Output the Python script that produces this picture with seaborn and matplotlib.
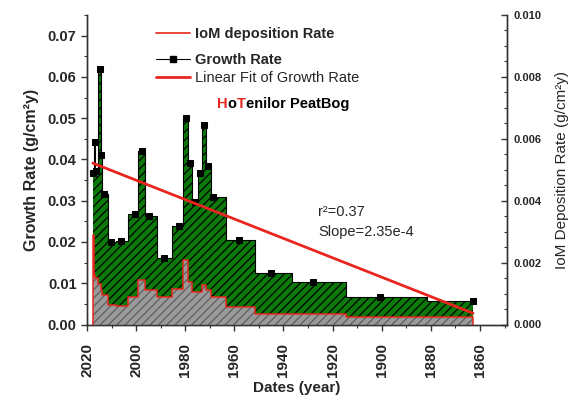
import numpy as np
import pandas as pd
import matplotlib
matplotlib.use("Agg")
import matplotlib.pyplot as plt
from matplotlib.lines import Line2D
from matplotlib.ticker import MultipleLocator, FormatStrFormatter
import seaborn as sns

# dated peat layers
years = [2017.6, 2016.8, 2016.3, 2014.7, 2014.3, 2013.1, 2010.2, 2006.2, 2000.5, 1997.6,
         1994.8, 1988.6, 1982.5, 1979.7, 1978.1, 1976.0, 1974.0, 1972.4, 1970.7, 1968.7,
         1958.1, 1945.1, 1928.0, 1900.7, 1862.8]
growth_rate = [0.0366, 0.0443, 0.0372, 0.0618, 0.0410, 0.0316, 0.0199, 0.0202, 0.0268, 0.0420,
               0.0263, 0.0161, 0.0238, 0.0500, 0.0392, 0.0298, 0.0366, 0.0483, 0.0385, 0.0308,
               0.0205, 0.0125, 0.0104, 0.0067, 0.0058]
iom_rate = [0.0029, 0.0016, 0.0015, 0.0013, 0.0011, 0.00094, 0.00062, 0.0006, 0.0009, 0.00143,
            0.0011, 0.00088, 0.00114, 0.0021, 0.00137, 0.00104, 0.00104, 0.00127, 0.0011, 0.00088,
            0.00057, 0.00033, 0.00033, 0.00023, 0.00023]

# linear fit of growth rate
fit_r2 = 0.37
fit_slope = 2.35e-4
fit_start = 0.0391

sns.set_style("ticks")
plt.rcParams['font.family'] = ['Liberation Sans', 'DejaVu Sans']
plt.rcParams['font.weight'] = 'bold'
plt.rcParams['hatch.linewidth'] = 0.9

df = pd.DataFrame({'year': years, 'growth': growth_rate, 'iom': iom_rate})

green = '#0b7a0b'
red = '#e8261f'

fig = plt.figure(figsize=(5.7, 4.05), dpi=100)
ax = fig.add_axes([87/570, 1 - 324.5/405, 420/570, 309.5/405])
ax2 = ax.twinx()

# growth rate (left axis)
ax.fill_between(df['year'], df['growth'], step='mid', facecolor=green,
                edgecolor='black', hatch='////', linewidth=0)
sns.lineplot(data=df, x='year', y='growth', ax=ax, drawstyle='steps-mid', color='black',
             lw=0.8, marker='s', markersize=5, markeredgecolor='black',
             estimator=None, sort=False)
fx = np.array([years[0], years[-1]])
ax.plot(fx, fit_start - fit_slope * (years[0] - fx), color=red, lw=2)

# IoM deposition rate (right axis)
ax2.fill_between(df['year'], df['iom'], step='mid', facecolor='#9a9a9a',
                 edgecolor='#5e5e5e', hatch='////', linewidth=0)
ax2.plot([years[0]] + years + [years[-1]], [0] + iom_rate + [0],
         drawstyle='steps-mid', color=red, lw=1.1)

ax.set_xlim(2020, 1849)
ax.set_ylim(0, 0.075)
ax2.set_ylim(0, 0.010)

ax.xaxis.set_major_locator(MultipleLocator(20))
ax.xaxis.set_minor_locator(MultipleLocator(10))
ax.yaxis.set_major_locator(MultipleLocator(0.01))
ax.yaxis.set_minor_locator(MultipleLocator(0.005))
ax.yaxis.set_major_formatter(FormatStrFormatter('%.2f'))
ax2.yaxis.set_major_locator(MultipleLocator(0.002))
ax2.yaxis.set_minor_locator(MultipleLocator(0.0005))
ax2.yaxis.set_major_formatter(FormatStrFormatter('%.3f'))

ax.tick_params(axis='both', which='major', direction='out', length=4.5, width=1, pad=3, color='#333333')
ax.tick_params(axis='both', which='minor', direction='out', length=2.5, width=0.8, color='#333333')
ax.tick_params(axis='x', which='major', labelrotation=90, labelsize=11, pad=9)
ax.tick_params(axis='y', labelsize=10.5)
ax2.tick_params(axis='y', which='major', direction='in', length=4.5, width=1, pad=5, labelsize=8, color='#333333')
ax2.tick_params(axis='y', which='minor', direction='in', length=2.5, width=0.8, color='#333333')

for a in (ax, ax2):
    a.spines['top'].set_visible(False)
    for s in a.spines.values():
        s.set_linewidth(1)
        s.set_color('#333333')

ax.set_xlabel('Dates (year)', fontsize=11, fontweight='bold', labelpad=3)
ax.set_ylabel('Growth Rate (g/cm²y)', fontsize=11.5, fontweight='bold', labelpad=6)
ax2.set_ylabel('IoM Deposition Rate (g/cm²y)', fontsize=11, fontweight='normal', labelpad=9)

# legends
leg1 = fig.legend([Line2D([], [], color=red, lw=1.2)], ['IoM deposition Rate'],
                  loc='center left', bbox_to_anchor=(156/570, 1 - 34/405), frameon=False,
                  fontsize=10.5, handlelength=2.3, handletextpad=0.35, borderpad=0, borderaxespad=0)
leg2 = fig.legend([Line2D([], [], color='black', lw=0.8, marker='s', markersize=5),
                   Line2D([], [], color=red, lw=2)],
                  ['Growth Rate', 'Linear Fit of Growth Rate'],
                  loc='center left', bbox_to_anchor=(156/570, 1 - 69/405), frameon=False,
                  fontsize=10.5, handlelength=2.3, handletextpad=0.35, labelspacing=0.3,
                  borderpad=0, borderaxespad=0)
leg2.get_texts()[1].set_fontweight('normal')

# site name, H and T in red
parts = [('H', red), ('o', 'black'), ('T', red), ('enilor PeatBog', 'black')]
prev = fig.text(217/570, 1 - 108/405, parts[0][0], color=parts[0][1], fontsize=10.5,
                va='baseline', ha='left')
for txt, col in parts[1:]:
    prev = ax.annotate(txt, xy=(1, 0), xycoords=prev, color=col, fontsize=10.5,
                       va='bottom', ha='left')

ax.text(318/570, 1 - 212/405, f'r²={fit_r2}', transform=fig.transFigure, fontsize=10.5,
        fontweight='normal', va='center')
ax.text(318/570, 1 - 232/405, f'Slope={fit_slope:.2e}'.replace('e-04', 'e-4'),
        transform=fig.transFigure, fontsize=10.5, fontweight='normal', va='center')

fig.savefig('out.png', dpi=100)
